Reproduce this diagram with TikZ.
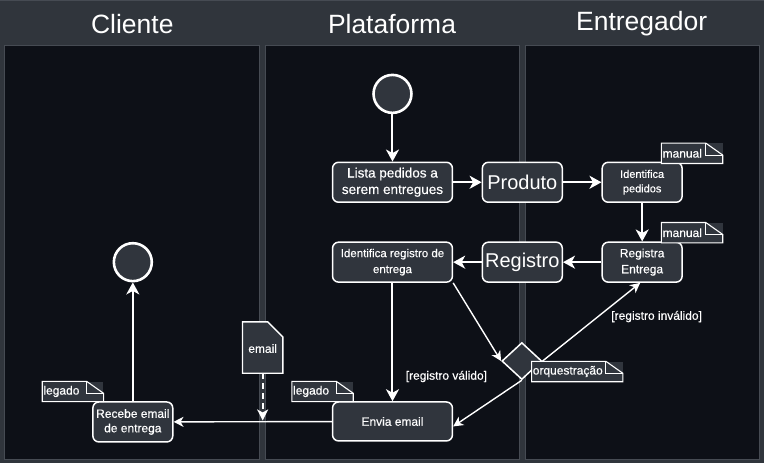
\documentclass[tikz,border=0pt]{standalone}
\usepackage{fontspec}
\setmainfont{Liberation Sans}
\newfontfamily\medfont{Liberation Sans}[FakeBold=0.35]
\usetikzlibrary{arrows.meta,shapes.geometric}
\definecolor{hdr}{HTML}{30353C}
\definecolor{lanebg}{HTML}{0D1017}
\definecolor{boxfill}{HTML}{30353D}
\definecolor{laneline}{HTML}{464B53}
\newcommand\fs[2]{\medfont\fontsize{#1}{#2}\selectfont}
\newcommand\fr[2]{\normalfont\fontsize{#1}{#2}\selectfont}
\newcommand\mynote[5]{%
  \node[notebody, minimum width=#4] (#1) at (#2,#3) {};
  \draw[notedraw] (#1.south west) -- (#1.north west) -- ([xshift=-17pt]#1.north east)
     -- ([yshift=-12pt]#1.north east) -- (#1.south east) -- cycle;
  \draw[notedraw] ([xshift=-17pt]#1.north east) -- ([xshift=-17pt,yshift=-12pt]#1.north east)
     -- ([yshift=-12pt]#1.north east);
  \node[notetext, anchor=west] (#1t) at ([xshift=1pt]#1.west) {#5};
}
\begin{document}
\begin{tikzpicture}[x=1pt,y=-1pt,
  box/.style={draw=white, line width=1.5pt, fill=boxfill, rounded corners=6pt,
    text=white, align=center, inner sep=0pt, minimum height=40pt,
    font=\fs{12}{14.5}},
  startend/.style={circle, draw=white, line width=2.6pt, fill=boxfill,
    minimum size=38pt, inner sep=0pt},
  notebody/.style={rectangle, fill=boxfill, minimum height=20pt, inner sep=0pt},
  notedraw/.style={draw=white, line width=1.1pt},
  notetext/.style={text=white, inner sep=0pt, font=\fs{12}{14}},
  lbl/.style={text=white, inner sep=0pt, font=\fs{12}{14}},
  arr/.style={draw=white, line width=2pt, -{Stealth[length=12pt,width=13pt,inset=3.5pt]}},
  thinarr/.style={draw=white, line width=1.4pt, -{Stealth[length=10pt,width=10pt,inset=3pt]}},
  dasharr/.style={draw=white, line width=2pt, dash pattern=on 6pt off 4pt,
    -{Stealth[length=11pt,width=11pt,inset=3pt]}},
  hdrtext/.style={text=white, font=\fr{26.5}{30}, inner sep=0pt}
]
% frame and lanes
\fill[hdr] (0,0) rectangle (764,464);
\draw[laneline, line width=1pt] (0,0.5) -- (764,0.5);
\fill[lanebg, draw=laneline, line width=0.8pt] (4,45) rectangle (259.5,460);
\fill[lanebg, draw=laneline, line width=0.8pt] (265.5,45) rectangle (519.5,460);
\fill[lanebg, draw=laneline, line width=0.8pt] (525.5,45) rectangle (760,460);
\node[hdrtext] (hcli) at (132,24) {Cliente};
\node[hdrtext] (hpla) at (392,24) {Plataforma};
\node[hdrtext] (hent) at (642,24) {Entregador};

% nodes
\node[startend] (start) at (392.5,94) {};
\node[startend] (endc) at (132.5,262.5) {};
\node[box, minimum width=120pt, font=\fs{13.5}{16.5}] (lista) at (392.5,182.5) {Lista pedidos a\\serem entregues};
\node[box, minimum width=80pt, font=\fr{20}{22}] (produto) at (522.5,182.5) {Produto};
\node[box, minimum width=80pt, font=\fs{11}{14.5}] (idped) at (642.5,182.5) {Identifica\\pedidos};
\node[box, minimum width=80pt, font=\fs{12}{16}] (regent) at (642.5,262.5) {Registra\\Entrega};
\node[box, minimum width=80pt, font=\fr{20}{22}] (registro) at (522.5,262.5) {Registro};
\node[box, minimum width=120pt, font=\fs{11.5}{16}] (idreg) at (392.5,262.5) {Identifica registro de\\entrega};
\node[box, minimum width=120pt, minimum height=39pt] (envia) at (392.5,422) {Envia email};
\node[box, minimum width=80pt] (recebe) at (132.5,422.5) {Recebe email\\de entrega};
\node[diamond, draw=white, line width=1.5pt, fill=boxfill, minimum width=40pt,
  minimum height=37pt, inner sep=0pt] (dia) at (522,361.5) {};

% document "email"
\node[rectangle, fill=none, minimum width=40pt, minimum height=51pt, inner sep=0pt] (email) at (262.5,348) {};
\filldraw[fill=boxfill, draw=white, line width=1.4pt] (email.south west) -- (email.north west)
  -- ([xshift=-15pt]email.north east) -- ([yshift=-15pt]email.north east) -- (email.south east) -- cycle;
\node[lbl] (emailt) at (262.5,349) {email};

% notes
\mynote{n1}{692.5}{153.5}{61pt}{manual}
\mynote{n2}{692.5}{233}{61pt}{manual}
\mynote{n3}{72.5}{392}{61pt}{legado}
\mynote{n4}{322.5}{392}{61pt}{legado}

% connectors
\coordinate (join) at (262.5,421);
\draw[arr] (start) -- (lista);
\draw[arr] (lista) -- (produto);
\draw[arr] (produto) -- (idped);
\draw[arr] (idped) -- (regent);
\draw[arr] (regent) -- (registro);
\draw[arr] (registro) -- (idreg);
\draw[arr] (idreg) -- (envia);
\draw[thinarr] (idreg.south east) -- (dia.west);
\draw[thinarr] (dia.south) -- ([yshift=-5pt]envia.east);
\draw[thinarr] (dia.east) -- ([xshift=-2pt]regent.south);
\draw[thinarr] (envia) -- (recebe);
\draw[arr] (recebe) -- (endc);
\draw[dasharr] (email) -- (join);

\mynote{n5}{577.5}{372}{91pt}{orquestração}

% labels
\node[lbl] (lval) at (446.5,377) {[registro válido]};
\node[lbl] (linv) at (657,317) {[registro inválido]};
\end{tikzpicture}
\end{document}
